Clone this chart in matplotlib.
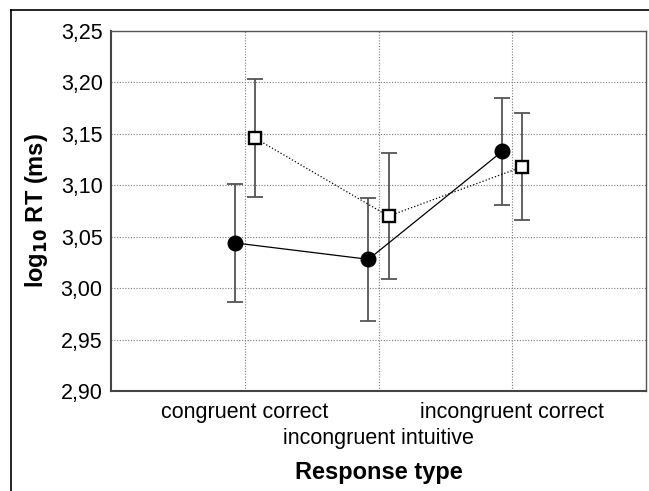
import matplotlib
matplotlib.use("Agg")
import matplotlib.pyplot as plt
from matplotlib.lines import Line2D
from matplotlib.ticker import FuncFormatter

# ---------------- DATA ---------------- #
categories = ["congruent correct", "incongruent intuitive", "incongruent correct"]
circle_means = [3.044, 3.028, 3.133]
circle_err = [0.057, 0.060, 0.052]
square_means = [3.146, 3.070, 3.118]
square_err = [0.057, 0.061, 0.052]
y_ticks = [2.90, 2.95, 3.00, 3.05, 3.10, 3.15, 3.20, 3.25]

# ---------------- STYLE ---------------- #
plt.rcParams['font.family'] = ['Liberation Sans', 'DejaVu Sans']
ERR_COLOR = "#555555"
GRID_COLOR = "#7a7a7a"
OFFSET = 0.075
TICK_SIZE = 15.5
LABEL_SIZE = 17

fig = plt.figure(figsize=(6.49, 4.91), dpi=100)
ax = fig.add_axes([111 / 649, 1 - 391 / 491, 535 / 649, 360 / 491])

x = list(range(1, len(categories) + 1))
x_c = [v - OFFSET for v in x]
x_s = [v + OFFSET for v in x]

# circles, solid line
ax.errorbar(x_c, circle_means, yerr=circle_err, fmt='none', ecolor=ERR_COLOR,
            elinewidth=1.3, capsize=5.5, capthick=1.3, zorder=3)
ax.plot(x_c, circle_means, '-', color='black', lw=0.9, marker='o', ms=10.5,
        mfc='black', mec='black', zorder=4)

# squares, dotted line
ax.errorbar(x_s, square_means, yerr=square_err, fmt='none', ecolor=ERR_COLOR,
            elinewidth=1.3, capsize=5.5, capthick=1.3, zorder=3)
ax.plot(x_s, square_means, ':', color='black', lw=0.9, zorder=4)
ax.plot(x_s, square_means, 'none', marker='s', ms=9.3, mfc='white', mec='black',
        mew=1.7, zorder=5)

ax.set_xlim(0, len(categories) + 1)
ax.set_ylim(2.90, 3.25)
ax.set_xticks(x)
ax.set_xticklabels(categories, fontsize=TICK_SIZE)
ax.set_yticks(y_ticks)
ax.yaxis.set_major_formatter(FuncFormatter(lambda v, p: f"{v:.2f}".replace('.', ',')))
ax.tick_params(axis='both', length=0, labelsize=TICK_SIZE)
ax.tick_params(axis='y', pad=6)
ax.tick_params(axis='x', pad=8)
# middle label sits one line lower (staggered labels)
ax.xaxis.get_major_ticks()[1].set_pad(8 + 18.5)

ax.grid(True, color=GRID_COLOR, linestyle=(0, (1, 1.5)), linewidth=0.8)
ax.set_axisbelow(True)

for side in ['left', 'bottom']:
    ax.spines[side].set_color('#444444')
    ax.spines[side].set_linewidth(1.5)
for side in ['top', 'right']:
    ax.spines[side].set_color('#555555')
    ax.spines[side].set_linewidth(1.0)

ax.set_ylabel("log$_{\\mathbf{10}}$ RT (ms)", fontsize=LABEL_SIZE, fontweight='bold', labelpad=8)
ax.set_xlabel("Response type", fontsize=LABEL_SIZE, fontweight='bold', labelpad=9)

# outer frame (left and top only)
fx = 10.5 / 649
fy = 1 - 9.5 / 491
fig.add_artist(Line2D([fx, fx], [0, fy], color='black', lw=1.2))
fig.add_artist(Line2D([fx, 1], [fy, fy], color='black', lw=1.2))

fig.savefig("out.png", dpi=100)
